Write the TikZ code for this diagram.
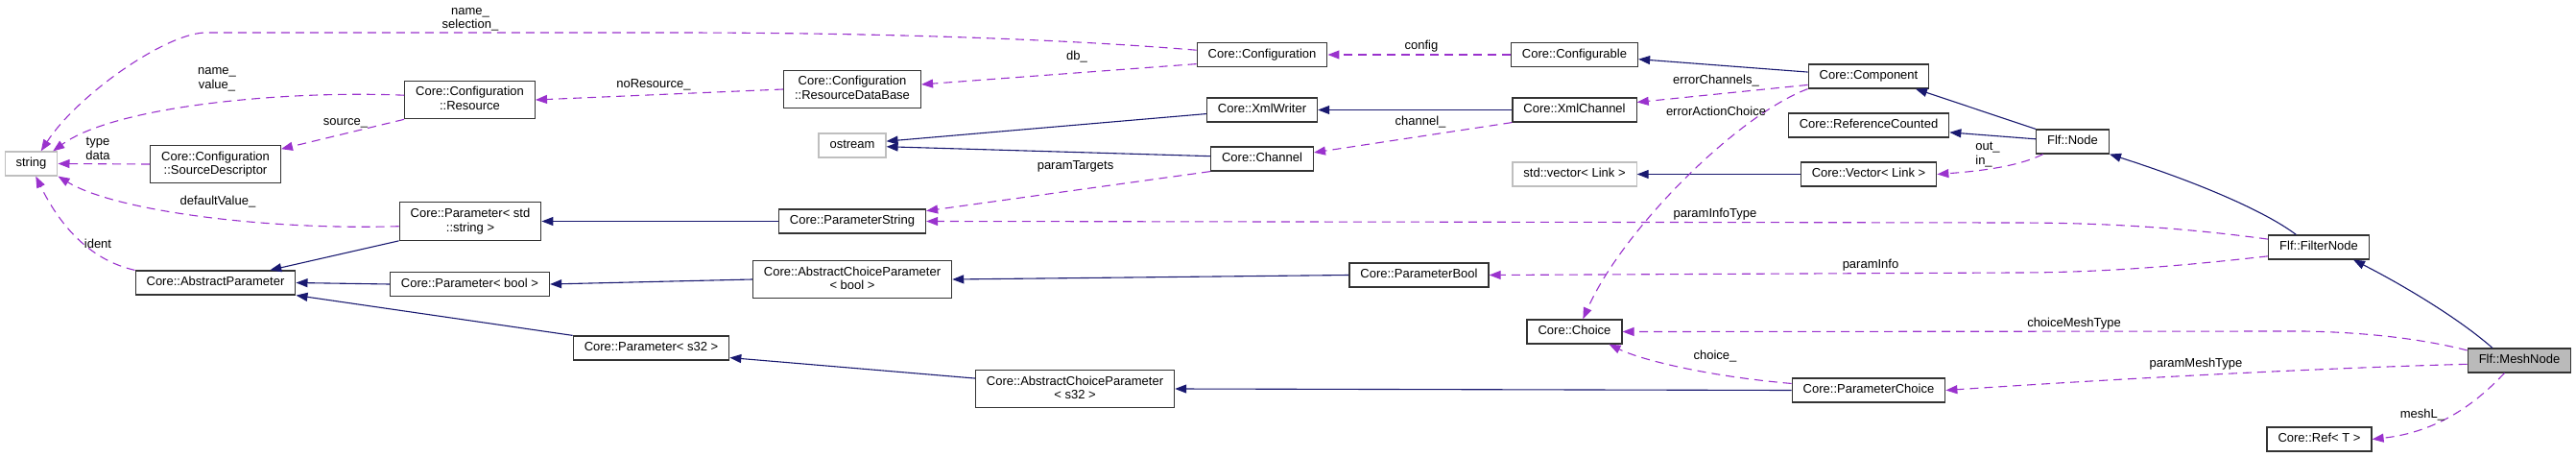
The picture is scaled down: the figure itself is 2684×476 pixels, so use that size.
\documentclass[tikz,border=0pt]{standalone}
\usepackage{fontspec}
\setmainfont{Liberation Sans}
\usetikzlibrary{arrows.meta}
\definecolor{inhblue}{HTML}{191970}
\definecolor{usepurple}{HTML}{9A32CD}

\begin{document}
\begin{tikzpicture}[x=1pt,y=-1pt,
    cls/.style={draw=black!80, line width=1.2pt, fill=white, font=\fontsize{13}{14.5}\selectfont,
      align=center, inner xsep=11.5pt, inner ysep=6.25pt, text height=9.5pt, text depth=3pt},
    cls2/.style={cls, text height=24pt},
    ext/.style={cls, draw=black!25},
    cur/.style={cls, fill=black!27},
    lbl/.style={font=\fontsize{13}{14.5}\selectfont, align=center, inner sep=0pt,
      text height=9.5pt, text depth=3pt},
    lbl2/.style={lbl, text height=24pt},
    inh/.style={draw=inhblue, line width=1.1pt, -{Triangle[length=12pt,width=9pt]}},
    use/.style={draw=usepurple, line width=1.1pt, dash pattern=on 9pt off 6pt,
      -{Triangle[length=12pt,width=9pt]}}]

        \useasboundingbox (0,0) rectangle (2684,476);

        \node[ext] (str) at (32.5,170.5) {string};
        \node[cls2] (srcd) at (224.5,171) {Core::Configuration\\::SourceDescriptor};
        \node[cls2] (res) at (489.5,104) {Core::Configuration\\::Resource};
        \node[cls2] (pstd) at (490,230.5) {Core::Parameter< std\\::string >};
        \node[cls] (apar) at (224.5,294.5) {Core::AbstractParameter};
        \node[cls] (pbool) at (489.5,296) {Core::Parameter< bool >};
        \node[cls] (ps32) at (678.5,362.5) {Core::Parameter< s32 >};
        \node[cls2] (resdb) at (888,93) {Core::Configuration\\::ResourceDataBase};
        \node[ext] (ostr) at (888,151.5) {ostream};
        \node[cls] (pstring) at (888,230.5) {Core::ParameterString};
        \node[cls2] (acpbool) at (888,291) {Core::AbstractChoiceParameter\\< bool >};
        \node[cls2] (acps32) at (1120,405) {Core::AbstractChoiceParameter\\< s32 >};
        \node[cls] (conf) at (1315,57) {Core::Configuration};
        \node[cls] (xmlw) at (1315,114.5) {Core::XmlWriter};
        \node[cls] (chan) at (1315,165.5) {Core::Channel};
        \node[cls] (parbool) at (1478.5,286.5) {Core::ParameterBool};
        \node[cls] (confb) at (1640.5,57) {Core::Configurable};
        \node[cls] (xmlch) at (1640.5,114.5) {Core::XmlChannel};
        \node[ext] (stdvec) at (1640.5,181.5) {std::vector< Link >};
        \node[cls] (choice) at (1640.5,345.5) {Core::Choice};
        \node[cls] (comp) at (1947,79.5) {Core::Component};
        \node[cls] (refc) at (1947,130.5) {Core::ReferenceCounted};
        \node[cls] (vec) at (1947,181.5) {Core::Vector< Link >};
        \node[cls] (parch) at (1947,406.5) {Core::ParameterChoice};
        \node[cls] (fnode) at (2159.5,147.5) {Flf::Node};
        \node[cls] (filt) at (2416,257.5) {Flf::FilterNode};
        \node[cur] (mesh) at (2625,375.5) {Flf::MeshNode};
        \node[cls] (ref) at (2416.5,457.5) {Core::Ref< T >};

        \draw[inh] (pstd.south west) -- (apar.13);
        \draw[inh] (pbool.west) -- (apar.east);
        \draw[inh] (ps32.north west) -- (apar.south east);
        \draw[inh] (pstring.west) -- (pstd.east);
        \draw[inh] (acpbool.west) -- (pbool.east);
        \draw[inh] (acps32.174) -- (ps32.-7);
        \draw[inh] (parbool.west) -- (acpbool.east);
        \draw[inh] (parch.west) -- (acps32.east);
        \draw[inh] (xmlw.184) -- (ostr.7);
        \draw[inh] (chan.177) -- (ostr.-2);
        \draw[inh] (xmlch.west) -- (xmlw.east);
        \draw[inh] (comp.176) -- (confb.-4);
        \draw[inh] (vec.west) -- (stdvec.east);
        \draw[inh] (fnode.north west) -- (comp.-15);
        \draw[inh] (fnode.176) -- (refc.-5);
        \draw[inh] (filt.151) .. controls (2360,220) and (2290,190) .. (fnode.south east);
        \draw[inh] (mesh.155) .. controls (2560,330) and (2500,295) .. (filt.-20);

        \draw[use] (conf.176) .. controls (1100,40) and (900,34) .. (700,34) -- (213,34)
          .. controls (170,36) and (80,100) .. (str.52);
        \draw[use] (res.176) .. controls (300,94) and (120,110) .. (str.30);
        \draw[use] (srcd.west) -- (str.east);
        \draw[use] (res.south west) -- (srcd.13);
        \draw[use] (pstd.184) .. controls (280,240) and (120,220) .. (str.-25);
        \draw[use] (apar.north west) .. controls (90,270) and (60,230) .. (str.-70);
        \draw[use] (resdb.west) -- (res.east);
        \draw[use] (conf.188) -- (resdb.4);
        \draw[use] (confb.west) -- (conf.east);
        \draw[use] (xmlch.south west) -- (chan.7);
        \draw[use] (comp.188) -- (xmlch.7);
        \draw[use] (comp.south west) .. controls (1810,120) and (1690,240) .. (choice.56);
        \draw[use] (chan.south west) -- (pstring.8);
        \draw[use] (filt.171) .. controls (2280,238) and (2200,232) .. (2100,232) -- (pstring.east);
        \draw[use] (filt.190) .. controls (2290,275) and (2200,284) .. (2100,284) -- (parbool.east);
        \draw[use] (parch.175) .. controls (1780,392) and (1710,375) .. (choice.-20);
        \draw[use] (mesh.169) .. controls (2520,352) and (2460,346) .. (2400,345) -- (choice.east);
        \draw[use] (mesh.184) .. controls (2400,384) and (2200,395) .. (parch.east);
        \draw[use] (mesh.-140) .. controls (2580,420) and (2540,450) .. (ref.east);
        \draw[use] (fnode.-157) .. controls (2110,170) and (2080,177) .. (vec.east);

        \node[lbl2] (l-namesel) at (490,19.5) {name\_\\selection\_};
        \node[lbl2] (l-nameval) at (226,82) {name\_\\value\_};
        \node[lbl2] (l-typedata) at (102,155.5) {type\\data};
        \node[lbl] (l-source) at (360,127) {source\_};
        \node[lbl] (l-default) at (227,210) {defaultValue\_};
        \node[lbl] (l-ident) at (102,255) {ident};
        \node[lbl] (l-nores) at (681,88) {noResource\_};
        \node[lbl] (l-db) at (1122,59) {db\_};
        \node[lbl] (l-config) at (1481,48) {config};
        \node[lbl] (l-channel) at (1480,127) {channel\_};
        \node[lbl] (l-targets) at (1120.5,173) {paramTargets};
        \node[lbl] (l-errch) at (1788,84) {errorChannels\_};
        \node[lbl] (l-erract) at (1788,117) {errorActionChoice};
        \node[lbl] (l-infotype) at (1787,223) {paramInfoType};
        \node[lbl] (l-info) at (1949,276) {paramInfo};
        \node[lbl] (l-choice) at (1787,371) {choice\_};
        \node[lbl2, align=left] (l-outin) at (2071,160.5) {out\_\\in\_};
        \node[lbl] (l-chmesh) at (2161,337) {choiceMeshType};
        \node[lbl] (l-parmesh) at (2288,379) {paramMeshType};
        \node[lbl] (l-meshl) at (2524,432) {meshL\_};
      \end{tikzpicture}
\end{document}
